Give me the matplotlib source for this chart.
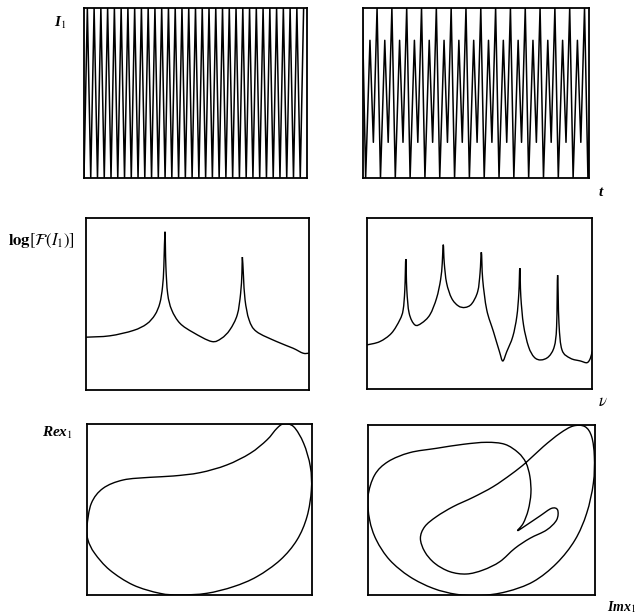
import numpy as np
import matplotlib.pyplot as plt
from matplotlib.path import Path
from matplotlib.patches import PathPatch

plt.rcParams['mathtext.fontset'] = 'stix'
plt.rcParams['font.family'] = 'Liberation Serif'

# top row: one cycle of the intensity, repeated n times
left_cycles = 33
left_phase = [0.0, 0.5]
left_level = [0.0, 1.0]

right_cycles = 15.3
right_phase = [0.0, 0.23, 0.52, 0.75]
right_level = [1.0, 0.0, 0.81, 0.21]

# middle row: log spectrum (normalised frequency, normalised level)
spec_l_x = [0.0, 0.107, 0.212, 0.272, 0.309, 0.331, 0.343, 0.349, 0.354, 0.358, 0.366,
            0.384, 0.421, 0.481, 0.563, 0.607, 0.645, 0.678, 0.693, 0.699, 0.701, 0.706,
            0.713, 0.731, 0.764, 0.854, 0.928, 0.973, 1.0]
spec_l_y = [0.307, 0.315, 0.346, 0.384, 0.437, 0.505, 0.60, 0.72, 0.92, 0.72, 0.56,
            0.466, 0.388, 0.334, 0.282, 0.30, 0.35, 0.437, 0.56, 0.68, 0.773, 0.66,
            0.524, 0.408, 0.34, 0.282, 0.243, 0.214, 0.214]

spec_r_px = [112, 150, 185, 210, 220, 225, 228, 231, 238, 255, 275, 300, 320, 332, 337, 340,
             343, 350, 365, 385, 405, 425, 443, 450, 454, 458, 470, 490, 508, 518, 530, 548,
             560, 566, 569, 572, 580, 595, 612, 632, 655, 672, 679, 682, 686, 695, 720, 750,
             770, 780, 785]
spec_r_y = [0.258, 0.277, 0.326, 0.404, 0.463, 0.58, 0.76, 0.58, 0.443, 0.375, 0.385, 0.434,
            0.531, 0.639, 0.736, 0.844, 0.736, 0.62, 0.531, 0.486, 0.477, 0.498, 0.57, 0.678,
            0.80, 0.639, 0.463, 0.336, 0.219, 0.164, 0.219, 0.307, 0.424, 0.56, 0.707, 0.54,
            0.375, 0.248, 0.186, 0.17, 0.189, 0.248, 0.365, 0.666, 0.385, 0.229, 0.18, 0.164,
            0.154, 0.18, 0.219]

# bottom row: phase portraits (Im x1, Re x1), read in picture pixels
orbit_l_px = [262, 275, 310, 370, 450, 520, 600, 680, 750, 800, 830, 850, 880, 910, 930, 933,
              920, 890, 840, 770, 700, 620, 540, 480, 400, 330, 285, 265]
orbit_l_py = [380, 310, 265, 240, 232, 228, 218, 195, 160, 120, 85, 72, 80, 130, 200, 270,
              350, 420, 480, 530, 560, 580, 585, 580, 555, 510, 460, 420]

orbit_r_px = [115, 135, 175, 240, 320, 400, 470, 525, 565, 588, 600, 603, 595, 580, 563, 590,
              630, 665, 683, 680, 650, 600, 555, 510, 460, 410, 360, 315, 285, 272, 285, 320,
              370, 430, 490, 545, 588, 640, 690, 730, 765, 785, 793, 790, 770, 735, 680, 610,
              530, 450, 380, 310, 240, 180, 140, 120]
orbit_r_py = [290, 225, 185, 158, 145, 133, 127, 133, 158, 188, 230, 280, 330, 370, 392, 375,
              348, 325, 330, 360, 390, 415, 445, 485, 510, 522, 515, 490, 455, 415, 380, 350,
              320, 292, 260, 222, 188, 140, 100, 78, 80, 110, 170, 250, 340, 420, 490, 545,
              575, 587, 583, 565, 530, 480, 420, 360]


def tile_cycle(phase, level, n):
    k = int(np.ceil(n))
    t = (np.arange(k)[:, None] + np.array(phase)[None, :]).ravel()
    y = np.tile(level, k)
    return t, y


def smooth_path(xs, ys, closed=False):
    # Catmull-Rom through the read points, drawn as cubic Bezier segments
    p = np.column_stack([xs, ys]).astype(float)
    n = len(p)
    if closed:
        prev = np.roll(p, 1, axis=0)
        nxt = np.roll(p, -1, axis=0)
    else:
        prev = np.vstack([p[:1], p[:-1]])
        nxt = np.vstack([p[1:], p[-1:]])
    tan = (nxt - prev) / 2.0
    verts = [p[0]]
    codes = [Path.MOVETO]
    m = n if closed else n - 1
    for i in range(m):
        j = (i + 1) % n
        verts += [p[i] + tan[i] / 3.0, p[j] - tan[j] / 3.0, p[j]]
        codes += [Path.CURVE4] * 3
    return Path(verts, codes)


fig = plt.figure(figsize=(6.42, 6.16), dpi=100)

boxes = [
    [0.1308, 0.711, 0.3474, 0.276],
    [0.5654, 0.711, 0.352, 0.276],
    [0.134, 0.3669, 0.3474, 0.2792],
    [0.5717, 0.3685, 0.3505, 0.2776],
    [0.1355, 0.0341, 0.3505, 0.2776],
    [0.5732, 0.0341, 0.3536, 0.276],
]
axes = []
for b in boxes:
    ax = fig.add_axes(b)
    ax.set_xticks([])
    ax.set_yticks([])
    ax.set_xlim(0, 1)
    ax.set_ylim(0, 1)
    for s in ax.spines.values():
        s.set_linewidth(1.3)
    axes.append(ax)

lw = 1.0
t, y = tile_cycle(left_phase, left_level, left_cycles)
axes[0].plot(t, y, color='black', lw=1.1)
axes[0].set_xlim(0, left_cycles)

t, y = tile_cycle(right_phase, right_level, right_cycles)
axes[1].plot(t, y, color='black', lw=1.1)
axes[1].set_xlim(0.05, right_cycles)

axes[2].add_patch(PathPatch(smooth_path(spec_l_x, spec_l_y), fc='none', ec='black', lw=lw))

spec_r_x = [(p - 112) / 673 for p in spec_r_px]
axes[3].add_patch(PathPatch(smooth_path(spec_r_x, spec_r_y), fc='none', ec='black', lw=lw))

ox = [(p - 262) / 673 for p in orbit_l_px]
oy = [(585 - p) / 513 for p in orbit_l_py]
axes[4].add_patch(PathPatch(smooth_path(ox, oy, closed=True), fc='none', ec='black', lw=lw))

ox = [(p - 115) / 680 for p in orbit_r_px]
oy = [(585 - p) / 510 for p in orbit_r_py]
axes[5].add_patch(PathPatch(smooth_path(ox, oy, closed=True), fc='none', ec='black', lw=lw))

kw = dict(fontweight='bold', fontstyle='italic', fontsize=11)
fig.text(54 / 642, 1 - 23 / 616, r'I$_1$', ha='left', va='center', **kw)
fig.text(601 / 642, 1 - 192 / 616, 't', ha='center', va='center', **kw)
fig.text(8 / 642, 1 - 241 / 616, r'$\mathbf{log}\left[\mathcal{F}(I_1)\right]$',
         ha='left', va='center', fontsize=12)
fig.text(603 / 642, 1 - 402 / 616, r'$\nu$', ha='center', va='center', fontsize=12)
fig.text(42 / 642, 1 - 433 / 616, r'Rex$_1$', ha='left', va='center', **kw)
fig.text(607 / 642, 1 - 607 / 616, r'Imx$_1$', ha='left', va='center',
         fontweight='bold', fontstyle='italic', fontsize=10)

fig.savefig('out.png', dpi=100)
